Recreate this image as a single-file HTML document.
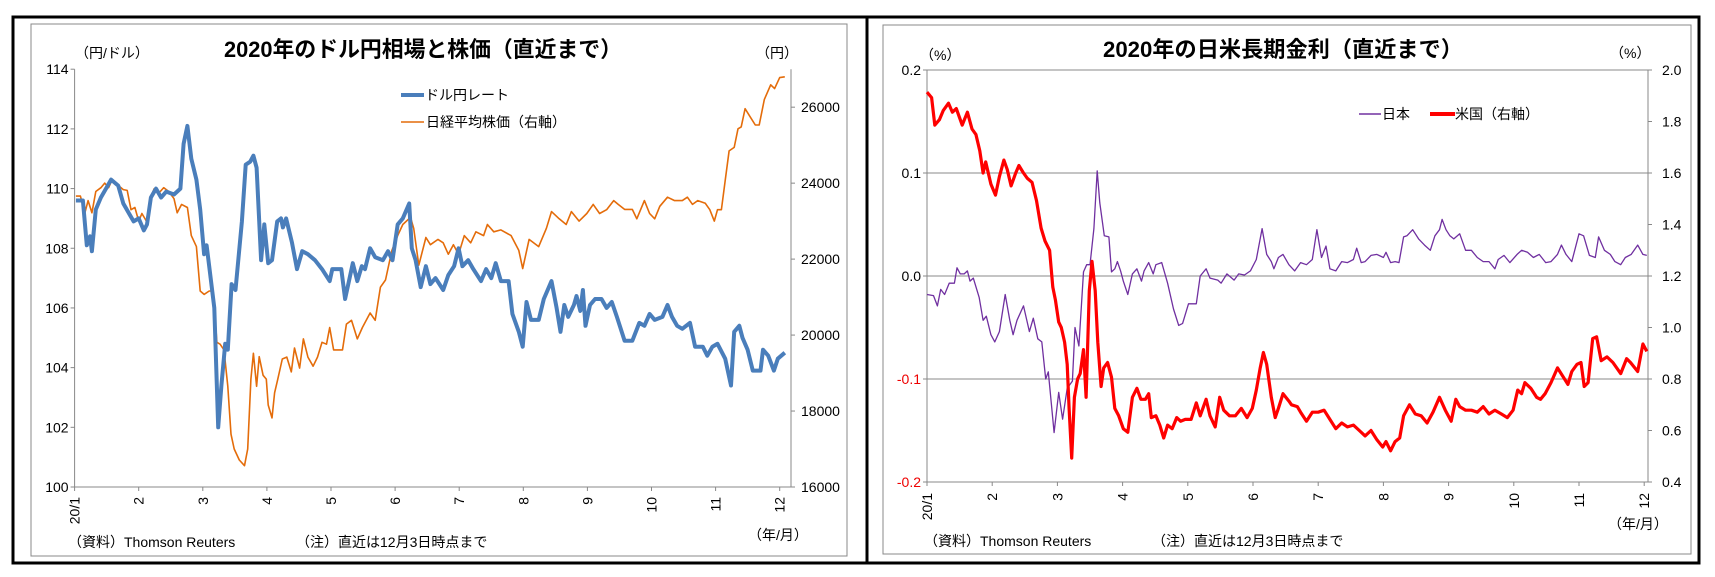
<!DOCTYPE html>
<html><head><meta charset="utf-8"><style>
html,body{margin:0;padding:0;background:#fff;}
svg{display:block;font-family:"Liberation Sans","Noto Sans CJK JP",sans-serif;}
</style></head><body>
<svg id="root" width="1715" height="577" viewBox="0 0 1715 577">
<rect x="13" y="17" width="1686" height="546" fill="none" stroke="#000" stroke-width="3"/>
<line x1="867" y1="17" x2="867" y2="563" stroke="#000" stroke-width="3"/>
<rect x="31" y="24" width="816" height="532" fill="none" stroke="#888" stroke-width="1"/>
<rect x="883" y="25" width="808" height="529" fill="none" stroke="#888" stroke-width="1"/>
<g id="left"></g>
<g id="right"></g>
</svg>
<script>
// ---- Left chart data ----
const usdMonths=[0.02,0.13,0.19,0.24,0.27,0.33,0.41,0.49,0.57,0.68,0.76,0.84,0.92,1.00,1.08,1.13,1.19,1.27,1.35,1.43,1.55,1.65,1.70,1.76,1.82,1.90,1.96,2.02,2.06,2.10,2.18,2.24,2.29,2.35,2.39,2.45,2.51,2.61,2.67,2.74,2.79,2.84,2.91,2.96,3.02,3.08,3.16,3.22,3.25,3.30,3.39,3.47,3.55,3.64,3.75,3.86,3.98,4.02,4.16,4.22,4.34,4.41,4.48,4.53,4.61,4.69,4.81,4.89,4.96,5.04,5.12,5.22,5.26,5.32,5.40,5.48,5.55,5.63,5.75,5.83,5.92,5.99,6.05,6.14,6.22,6.34,6.42,6.50,6.57,6.65,6.77,6.83,6.93,6.99,7.05,7.12,7.24,7.32,7.44,7.52,7.58,7.64,7.70,7.79,7.83,7.89,7.93,7.97,8.04,8.12,8.22,8.30,8.38,8.46,8.58,8.70,8.81,8.89,8.97,9.05,9.17,9.25,9.32,9.40,9.48,9.60,9.68,9.80,9.87,9.95,10.03,10.15,10.24,10.29,10.37,10.42,10.50,10.58,10.70,10.74,10.82,10.91,10.97,11.08];
const usdValues=[109.6,109.6,108.1,108.4,107.9,109.3,109.7,110.0,110.3,110.1,109.5,109.2,108.9,109.0,108.6,108.8,109.7,110.0,109.7,109.9,109.8,110.0,111.5,112.1,111.0,110.3,109.3,107.8,108.1,107.4,106.0,102.0,103.4,104.8,104.6,106.8,106.6,108.9,110.8,110.9,111.1,110.7,107.6,108.8,107.5,107.6,108.9,109.0,108.7,109.0,108.2,107.3,107.9,107.8,107.6,107.3,106.9,107.3,107.3,106.3,107.5,106.9,107.4,107.3,108.0,107.7,107.6,107.9,107.6,108.8,109.0,109.5,108.0,107.6,106.7,107.4,106.8,107.0,106.6,107.1,107.4,108.0,107.4,107.6,107.3,106.9,107.3,107.0,107.5,106.9,106.9,105.8,105.2,104.7,106.2,105.6,105.6,106.3,106.9,106.0,105.2,106.1,105.7,106.1,106.4,105.9,106.6,105.4,106.1,106.3,106.3,106.0,106.2,105.7,104.9,104.9,105.5,105.4,105.8,105.6,105.7,106.1,105.7,105.4,105.3,105.5,104.7,104.7,104.4,104.7,104.8,104.3,103.4,105.2,105.4,105.0,104.6,103.9,103.9,104.6,104.4,103.9,104.3,104.5];
const nkMonths=[0.02,0.09,0.16,0.21,0.27,0.33,0.41,0.47,0.53,0.58,0.66,0.76,0.82,0.88,0.94,1.00,1.05,1.12,1.18,1.24,1.31,1.39,1.47,1.55,1.60,1.67,1.76,1.82,1.90,1.96,2.02,2.10,2.16,2.22,2.27,2.33,2.39,2.44,2.49,2.57,2.65,2.70,2.75,2.79,2.84,2.88,2.94,2.99,3.02,3.08,3.12,3.17,3.24,3.31,3.38,3.43,3.51,3.57,3.64,3.72,3.79,3.86,3.93,3.98,4.04,4.18,4.24,4.32,4.41,4.49,4.61,4.69,4.77,4.85,4.95,5.04,5.12,5.24,5.29,5.37,5.48,5.55,5.67,5.75,5.83,5.91,5.99,6.08,6.18,6.26,6.38,6.44,6.54,6.65,6.81,6.93,6.99,7.09,7.24,7.36,7.44,7.56,7.67,7.75,7.87,7.99,8.09,8.19,8.30,8.41,8.48,8.58,8.70,8.77,8.89,8.97,9.05,9.13,9.25,9.36,9.48,9.56,9.64,9.72,9.84,9.91,9.98,10.03,10.09,10.15,10.21,10.29,10.35,10.40,10.46,10.53,10.62,10.68,10.76,10.86,10.92,11.00,11.08];
const nkValues=[23660,23660,23220,23540,23220,23780,23880,24000,23880,24070,23970,23830,23810,23300,23360,23000,23200,23000,23590,23850,23730,23880,23780,23590,23220,23440,23360,22620,22330,21160,21070,21160,21160,19810,19760,19610,18650,17390,17000,16710,16560,17000,18840,19520,18650,19430,18940,18840,18160,17820,18480,18840,19370,19420,19030,19660,19130,19900,19420,19180,19420,19810,19760,20200,19610,19610,20290,20390,19900,20200,20580,20390,21260,21450,22230,22620,22910,23100,22810,21840,22570,22380,22520,22430,22130,22380,22130,22620,22430,22720,22620,22910,22720,22770,22620,22230,21750,22520,22330,22810,23250,23060,22910,23250,23000,23200,23440,23200,23300,23540,23440,23310,23310,23060,23540,23200,23060,23390,23630,23540,23540,23630,23440,23540,23470,23300,23000,23300,23300,24070,24850,24940,25430,25480,25960,25770,25530,25530,26200,26590,26490,26780,26800];
const leftTicks=[100,102,104,106,108,110,112,114];
const nkTicks=[16000,18000,20000,22000,24000,26000];
const monthLabels=["20/1","2","3","4","5","6","7","8","9","10","11","12"];
// ---- Right chart data ----
const jpMonths=[0,.10,.16,.21,.27,.34,.42,.46,.51,.57,.62,.66,.71,.80,.86,.91,.98,1.04,1.11,1.20,1.27,1.32,1.38,1.48,1.57,1.63,1.70,1.76,1.82,1.86,1.95,2.02,2.08,2.15,2.23,2.27,2.33,2.40,2.45,2.50,2.56,2.61,2.65,2.72,2.79,2.83,2.88,2.92,2.97,3.01,3.08,3.15,3.22,3.29,3.33,3.40,3.47,3.51,3.60,3.69,3.78,3.86,3.92,4.01,4.13,4.19,4.28,4.34,4.46,4.51,4.60,4.71,4.78,4.87,4.96,5.05,5.14,5.21,5.28,5.32,5.39,5.46,5.55,5.64,5.73,5.82,5.91,5.98,6.05,6.12,6.18,6.27,6.36,6.45,6.54,6.59,6.66,6.72,6.81,6.90,7.00,7.04,7.11,7.18,7.24,7.31,7.36,7.45,7.54,7.63,7.72,7.79,7.86,7.90,7.96,8.02,8.08,8.17,8.26,8.35,8.44,8.53,8.62,8.71,8.76,8.85,8.94,9.05,9.12,9.21,9.30,9.39,9.49,9.57,9.67,9.73,9.80,9.89,10.00,10.07,10.16,10.25,10.30,10.39,10.48,10.55,10.64,10.71,10.80,10.90,10.98,11.04];
const jpValues=[-.018,-.019,-.029,-.013,-.018,-.007,-.007,.008,.002,.002,.005,-.005,-.002,-.021,-.043,-.039,-.057,-.064,-.054,-.018,-.043,-.057,-.043,-.029,-.054,-.041,-.061,-.064,-.100,-.093,-.152,-.113,-.139,-.109,-.102,-.050,-.068,.004,.011,.011,.046,.102,.071,.039,.038,.004,.007,.014,.005,-.005,-.018,.002,.007,-.005,.005,.013,.002,.011,.013,-.007,-.032,-.048,-.046,-.027,-.027,0,.007,-.002,-.004,-.007,.002,-.004,.002,.001,.005,.016,.046,.021,.014,.007,.018,.021,.011,.005,.013,.011,.016,.045,.018,.029,.007,.005,.014,.013,.016,.027,.013,.014,.020,.021,.018,.023,.013,.014,.013,.038,.039,.045,.036,.030,.025,.039,.045,.055,.045,.039,.036,.041,.025,.025,.018,.014,.014,.007,.016,.020,.013,.021,.025,.023,.018,.021,.013,.014,.021,.030,.021,.014,.041,.039,.020,.018,.038,.025,.021,.014,.011,.018,.021,.030,.021,.020];
const usMonths=[0,.07,.12,.19,.25,.33,.39,.45,.54,.62,.69,.75,.81,.86,.90,.98,1.05,1.11,1.18,1.23,1.29,1.36,1.41,1.48,1.54,1.61,1.68,1.75,1.81,1.88,1.93,1.97,2.02,2.06,2.11,2.15,2.18,2.22,2.26,2.31,2.35,2.40,2.44,2.49,2.53,2.58,2.62,2.67,2.71,2.77,2.83,2.88,2.94,3.01,3.08,3.15,3.22,3.28,3.35,3.40,3.44,3.51,3.57,3.63,3.69,3.76,3.83,3.89,3.96,4.05,4.13,4.19,4.28,4.34,4.42,4.49,4.55,4.64,4.73,4.82,4.91,4.99,5.05,5.11,5.16,5.21,5.28,5.34,5.39,5.46,5.55,5.59,5.68,5.73,5.82,5.91,6.00,6.09,6.18,6.27,6.36,6.45,6.54,6.63,6.72,6.81,6.90,6.99,7.04,7.11,7.18,7.25,7.31,7.40,7.49,7.58,7.67,7.76,7.86,7.95,8.04,8.11,8.17,8.26,8.35,8.44,8.53,8.62,8.71,8.81,8.90,8.99,9.06,9.12,9.17,9.26,9.35,9.41,9.48,9.57,9.67,9.76,9.83,9.89,9.97,10.03,10.08,10.14,10.21,10.27,10.34,10.43,10.52,10.64,10.73,10.79,10.90,10.98,11.04];
const usValues=[1.914,1.893,1.786,1.807,1.843,1.871,1.836,1.850,1.786,1.836,1.771,1.750,1.686,1.600,1.643,1.557,1.514,1.586,1.650,1.614,1.550,1.600,1.629,1.600,1.579,1.564,1.493,1.386,1.336,1.300,1.157,1.107,1.021,1.000,.943,.857,.686,.493,.729,.800,.821,.914,.729,1.143,1.257,1.143,.943,.771,.843,.864,.807,.686,.657,.607,.593,.729,.764,.721,.721,.743,.650,.657,.621,.571,.621,.607,.650,.636,.643,.643,.707,.657,.721,.657,.614,.729,.679,.657,.657,.686,.650,.686,.757,.843,.903,.857,.729,.650,.686,.743,.714,.700,.693,.671,.636,.671,.671,.679,.643,.607,.629,.614,.621,.600,.579,.600,.564,.536,.557,.521,.557,.571,.657,.700,.664,.657,.629,.671,.729,.679,.636,.721,.693,.679,.679,.671,.693,.664,.679,.664,.650,.679,.757,.743,.786,.764,.729,.721,.743,.786,.843,.807,.779,.829,.857,.864,.771,.786,.957,.964,.871,.886,.864,.821,.879,.864,.829,.936,.907];
const jpTicks=[-0.2,-0.1,0.0,0.1,0.2];
const usTicks=[0.4,0.6,0.8,1.0,1.2,1.4,1.6,1.8,2.0];

const NS="http://www.w3.org/2000/svg";
function el(parent,tag,attrs,text){const e=document.createElementNS(NS,tag);for(const k in attrs)e.setAttribute(k,attrs[k]);if(text!==undefined)e.textContent=text;parent.appendChild(e);return e;}
function pathFrom(xs,ys,fx,fy){return xs.map((m,i)=>(i?"L":"M")+fx(m).toFixed(1)+","+fy(ys[i]).toFixed(1)).join("");}

// ===== LEFT =====
const L=document.getElementById('left');
const lx0=74.6,lx1=791,ly0=69.2,ly1=487,lStep=64.1;
const lxm=m=>lx0+m*lStep;
const lyv=v=>ly1-(v-100)/14*(ly1-ly0);
const lyn=v=>ly1-(v-16000)/11000*(ly1-ly0);
let t;
t=el(L,'text',{x:423,y:57,'text-anchor':'middle','font-size':22,'font-weight':'bold',textLength:398,lengthAdjust:'spacingAndGlyphs'},'2020年のドル円相場と株価（直近まで）');

t=el(L,'text',{x:75,y:58,'font-size':14},'（円/ドル）');

t=el(L,'text',{x:756,y:58,'font-size':14},'（円）');

t=el(L,'line',{x1:lx0,y1:ly0,x2:lx0,y2:ly1,stroke:'#888'});

t=el(L,'line',{x1:lx0,y1:ly1,x2:lx1,y2:ly1,stroke:'#888'});

t=el(L,'line',{x1:lx1,y1:ly0,x2:lx1,y2:ly1,stroke:'#888'});

leftTicks.forEach(v=>{const y=lyv(v);
 el(L,'line',{x1:lx0-4,y1:y,x2:lx0,y2:y,stroke:'#888'});
 const e=el(L,'text',{x:lx0-6,y:y+5,'text-anchor':'end','font-size':14},String(v));
 });
nkTicks.forEach(v=>{const y=lyn(v);
 el(L,'line',{x1:lx1,y1:y,x2:lx1+4,y2:y,stroke:'#888'});
 const e=el(L,'text',{x:lx1+10,y:y+5,'font-size':14},String(v));
 });
monthLabels.forEach((s,i)=>{const x=lxm(i);
 el(L,'line',{x1:x,y1:ly1,x2:x,y2:ly1+4,stroke:'#888'});
 const e=el(L,'text',{x:0,y:0,'text-anchor':'end','font-size':14,transform:`translate(${x+5},497) rotate(-90)`},s);
 });
t=el(L,'path',{d:pathFrom(nkMonths,nkValues,lxm,lyn),fill:'none',stroke:'#e46c0a','stroke-width':1.6,'stroke-linejoin':'round'});

t=el(L,'path',{d:pathFrom(usdMonths,usdValues,lxm,lyv),fill:'none',stroke:'#4a7ebb','stroke-width':4,'stroke-linejoin':'round'});

t=el(L,'line',{x1:401,y1:95,x2:424,y2:95,stroke:'#4a7ebb','stroke-width':4});

t=el(L,'text',{x:425,y:100,'font-size':14},'ドル円レート');

t=el(L,'line',{x1:401,y1:122,x2:424,y2:122,stroke:'#e46c0a','stroke-width':1.6});

t=el(L,'text',{x:426,y:127,'font-size':14},'日経平均株価（右軸）');

t=el(L,'text',{x:68,y:547,'font-size':14},'（資料）Thomson Reuters');

t=el(L,'text',{x:296,y:547,'font-size':14},'（注）直近は12月3日時点まで');

t=el(L,'text',{x:748,y:540,'font-size':14},'（年/月）');


// ===== RIGHT =====
const R=document.getElementById('right');
const rx0=927,rx1=1648,ry0=70,ry1=482,rStep=65.2;
const rxm=m=>rx0+m*rStep;
const ryj=v=>ry1-(v+0.2)/0.4*(ry1-ry0);
const ryu=v=>ry1-(v-0.4)/1.6*(ry1-ry0);
t=el(R,'text',{x:1283,y:57,'text-anchor':'middle','font-size':22,'font-weight':'bold',textLength:360,lengthAdjust:'spacingAndGlyphs'},'2020年の日米長期金利（直近まで）');

t=el(R,'text',{x:920,y:60,'font-size':14},'（%）');

t=el(R,'text',{x:1610,y:58,'font-size':14},'（%）');

jpTicks.forEach(v=>{const y=ryj(v);
 const g=el(R,'line',{x1:rx0-4,y1:y,x2:rx1+4,y2:y,stroke:'#888'});
 
 const e=el(R,'text',{x:rx0-6,y:y+5,'text-anchor':'end','font-size':14,fill:v<0?'#e00':'#000'},v.toFixed(1));
 });
usTicks.forEach(v=>{const y=ryu(v);
 el(R,'line',{x1:rx1,y1:y,x2:rx1+4,y2:y,stroke:'#888'});
 const e=el(R,'text',{x:rx1+14,y:y+5,'font-size':14},v.toFixed(1));
 });
t=el(R,'line',{x1:rx0,y1:ry0,x2:rx0,y2:ry1,stroke:'#888'});

t=el(R,'line',{x1:rx1,y1:ry0,x2:rx1,y2:ry1,stroke:'#888'});

monthLabels.forEach((s,i)=>{const x=rxm(i);
 el(R,'line',{x1:x,y1:ry1,x2:x,y2:ry1+4,stroke:'#888'});
 const e=el(R,'text',{x:0,y:0,'text-anchor':'end','font-size':14,transform:`translate(${x+5},493) rotate(-90)`},s);
 });
t=el(R,'path',{d:pathFrom(jpMonths,jpValues,rxm,ryj),fill:'none',stroke:'#7030a0','stroke-width':1.3,'stroke-linejoin':'round'});

t=el(R,'path',{d:pathFrom(usMonths,usValues,rxm,ryu),fill:'none',stroke:'#ff0000','stroke-width':3.2,'stroke-linejoin':'round'});

t=el(R,'line',{x1:1359,y1:114,x2:1381,y2:114,stroke:'#7030a0','stroke-width':1.5});

t=el(R,'text',{x:1382,y:119,'font-size':14},'日本');

t=el(R,'line',{x1:1430,y1:114,x2:1455,y2:114,stroke:'#ff0000','stroke-width':4});

t=el(R,'text',{x:1455,y:119,'font-size':14},'米国（右軸）');

t=el(R,'text',{x:924,y:546,'font-size':14},'（資料）Thomson Reuters');

t=el(R,'text',{x:1152,y:546,'font-size':14},'（注）直近は12月3日時点まで');

t=el(R,'text',{x:1608,y:529,'font-size':14},'（年/月）');

</script>
</body></html>
